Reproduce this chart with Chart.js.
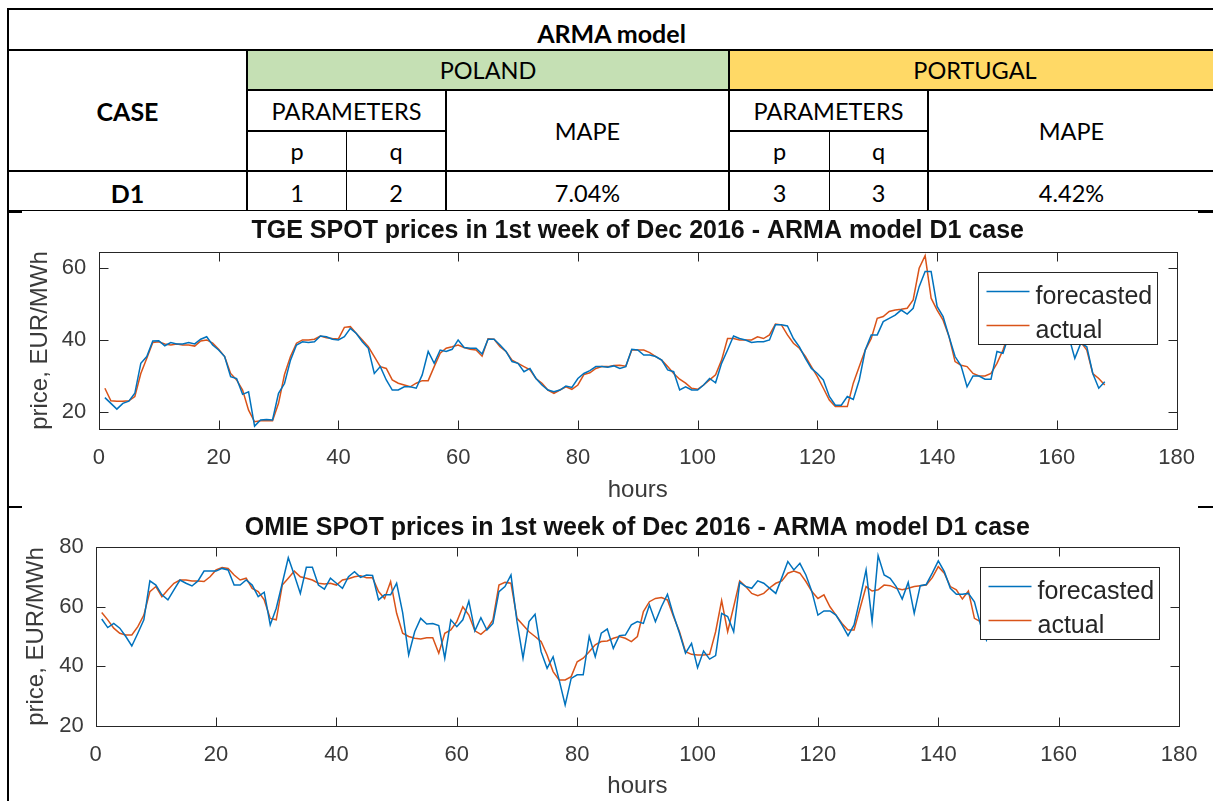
<!DOCTYPE html>
<html>
<head>
<meta charset="utf-8">
<title>ARMA model D1</title>
<script src="https://cdn.jsdelivr.net/npm/chart.js@4.4.1/dist/chart.umd.min.js"></script>
<style>
    html, body { margin: 0; padding: 0; background: #fff; }
    body { position: relative; width: 1213px; height: 801px; overflow: hidden; }

    .cell {
        position: absolute;
        display: flex;
        align-items: center;
        justify-content: center;
        box-sizing: border-box;
        font-family: Lato, "Open Sans", sans-serif;
        font-size: 23.5px;
        color: #000;
        white-space: nowrap;
    }
    .bold { font-weight: 700; font-size: 25px; }
    .rule { position: absolute; background: #000; }
    .plot { position: absolute; left: 9px; width: 1204px; height: 293px; }
</style>
</head>
<body>

<!-- table grid -->
<div class="rule" style="left:7px;top:8px;width:1210px;height:2px"></div>
<div class="rule" style="left:7px;top:49px;width:1210px;height:2px"></div>
<div class="rule" style="left:247px;top:89px;width:970px;height:2px"></div>
<div class="rule" style="left:247px;top:130px;width:200px;height:2px"></div>
<div class="rule" style="left:728px;top:130px;width:201px;height:2px"></div>
<div class="rule" style="left:7px;top:170px;width:1210px;height:2px"></div>
<div class="rule" style="left:7px;top:210px;width:1210px;height:1px"></div>

<div class="rule" style="left:7px;top:8px;width:2px;height:793px"></div>
<div class="rule" style="left:246px;top:49px;width:2px;height:162px"></div>
<div class="rule" style="left:346px;top:130px;width:1px;height:81px"></div>
<div class="rule" style="left:445px;top:89px;width:2px;height:122px"></div>
<div class="rule" style="left:728px;top:49px;width:2px;height:162px"></div>
<div class="rule" style="left:829px;top:130px;width:1px;height:81px"></div>
<div class="rule" style="left:927px;top:89px;width:2px;height:122px"></div>

<!-- little cell-end marks left and right of the chart rows -->
<div class="rule" style="left:9px;top:211px;width:13px;height:2px"></div>
<div class="rule" style="left:1198px;top:211px;width:15px;height:2px"></div>
<div class="rule" style="left:9px;top:506px;width:13px;height:2px"></div>
<div class="rule" style="left:1198px;top:506px;width:15px;height:2px"></div>

<!-- table cells -->
<div class="cell bold" id="tableTitle" style="left:9px;top:10px;width:1205px;height:39px;padding-top:6px"></div>
<div class="cell bold" id="caseHead" style="left:9px;top:51px;width:237px;height:119px"></div>

<div class="cell" id="regionA" style="left:248px;top:51px;width:480px;height:38px;background:#C5E0B4"></div>
<div class="cell" id="regionB" style="left:730px;top:51px;width:490px;height:38px;background:#FFD966"></div>

<div class="cell" id="paramsA" style="left:248px;top:91px;width:197px;height:39px"></div>
<div class="cell" id="mapeHeadA" style="left:447px;top:91px;width:281px;height:79px"></div>
<div class="cell" id="pHeadA" style="left:248px;top:132px;width:98px;height:38px"></div>
<div class="cell" id="qHeadA" style="left:347px;top:132px;width:98px;height:38px"></div>

<div class="cell" id="paramsB" style="left:730px;top:91px;width:197px;height:39px"></div>
<div class="cell" id="mapeHeadB" style="left:929px;top:91px;width:285px;height:79px"></div>
<div class="cell" id="pHeadB" style="left:730px;top:132px;width:99px;height:38px"></div>
<div class="cell" id="qHeadB" style="left:830px;top:132px;width:97px;height:38px"></div>

<div class="cell bold" id="caseName" style="left:9px;top:172px;width:237px;height:38px;padding-top:3px"></div>
<div class="cell" id="pA" style="left:248px;top:172px;width:98px;height:38px;padding-top:3px"></div>
<div class="cell" id="qA" style="left:347px;top:172px;width:98px;height:38px;padding-top:3px"></div>
<div class="cell" id="mapeA" style="left:447px;top:172px;width:281px;height:38px;padding-top:3px"></div>
<div class="cell" id="pB" style="left:730px;top:172px;width:99px;height:38px;padding-top:3px"></div>
<div class="cell" id="qB" style="left:830px;top:172px;width:97px;height:38px;padding-top:3px"></div>
<div class="cell" id="mapeB" style="left:929px;top:172px;width:285px;height:38px;padding-top:3px"></div>

<!-- the two price plots -->
<div class="plot" style="top:212px"><canvas id="tgeChart" width="1204" height="293"></canvas></div>
<div class="plot" style="top:508px"><canvas id="omieChart" width="1204" height="293"></canvas></div>

<script>
"use strict";

/*==========================================================
    TABLE VALUES
==========================================================*/

const modelName = "ARMA model";
const caseNames = ["D1"];
const markets = ["POLAND", "PORTUGAL"];
const orderP = [1, 3];
const orderQ = [2, 3];
const mapePercent = [7.04, 4.42];


/*==========================================================
    HOURLY PRICES, 1st week of Dec 2016 (EUR/MWh)
==========================================================*/

const tgeForecast = [
    24.1, 22.5, 20.9, 22.5, 23.1, 25.3, 33.6, 35.5, 39.8, 39.9,
    38.5, 39.4, 39.0, 39.0, 39.4, 39.0, 40.3, 41.0, 38.7, 37.3,
    35.5, 29.9, 29.4, 25.0, 25.7, 16.2, 17.9, 18.0, 17.9, 25.3,
    28.0, 34.5, 38.7, 39.6, 39.4, 39.6, 41.2, 41.0, 40.3, 40.1,
    41.0, 43.3, 41.9, 39.6, 37.8, 30.8, 32.7, 29.0, 26.2, 26.2,
    27.1, 27.1, 26.7, 30.4, 36.9, 33.6, 37.3, 36.9, 37.5, 40.1,
    38.0, 37.8, 37.8, 36.2, 40.3, 40.3, 38.7, 36.9, 34.1, 33.6,
    31.3, 32.2, 29.4, 27.6, 26.2, 25.7, 26.2, 27.3, 26.9, 29.4,
    30.8, 31.6, 32.7, 32.7, 32.5, 32.9, 32.2, 32.7, 37.5, 37.3,
    35.9, 35.9, 35.5, 34.5, 31.8, 31.3, 26.2, 27.1, 26.2, 26.2,
    27.6, 29.4, 28.2, 33.6, 37.3, 41.2, 40.5, 40.1, 39.4, 39.6,
    39.6, 40.1, 44.3, 44.3, 44.0, 40.5, 38.2, 35.0, 32.2, 30.8,
    29.0, 24.4, 22.0, 22.0, 24.4, 23.6, 29.0, 37.3, 41.5, 41.5,
    45.2, 46.1, 47.0, 48.4, 47.3, 48.9, 54.9, 59.1, 59.1, 49.4,
    46.6, 41.0, 35.5, 32.9, 27.1, 30.1, 30.1, 29.2, 29.2, 36.9,
    36.4, 41.5, 44.0, 48.0, 50.0, 48.0, 45.0, 43.0, 42.0, 41.0,
    43.0, 41.0, 35.0, 39.2, 38.2, 30.8, 26.7, 28.5
];

const tgeActual = [
    26.7, 23.2, 23.1, 23.1, 23.2, 24.4, 30.8, 35.0, 39.4, 39.6,
    39.0, 38.7, 39.0, 38.7, 38.7, 38.4, 39.8, 40.1, 39.2, 37.5,
    35.5, 30.8, 29.0, 26.2, 20.6, 17.4, 17.7, 17.7, 17.7, 22.5,
    30.5, 35.5, 39.2, 40.1, 40.1, 40.3, 41.2, 40.7, 40.5, 40.4,
    43.6, 43.8, 41.9, 40.1, 38.2, 35.5, 32.7, 32.2, 29.0, 28.1,
    27.6, 27.1, 28.1, 28.8, 28.8, 32.7, 36.4, 37.8, 38.2, 38.7,
    38.0, 37.5, 37.3, 35.6, 40.4, 40.3, 38.2, 36.9, 34.5, 33.6,
    32.7, 31.8, 29.4, 28.1, 26.2, 25.3, 26.2, 27.1, 26.4, 27.6,
    30.5, 31.0, 32.2, 32.7, 32.7, 33.0, 33.1, 32.8, 37.3, 37.3,
    37.3, 36.6, 35.5, 34.5, 32.7, 30.8, 29.2, 28.1, 26.7, 26.4,
    27.6, 29.0, 30.4, 34.5, 40.5, 40.5, 40.1, 40.1, 40.1, 41.0,
    40.5, 41.5, 44.5, 44.3, 41.5, 39.2, 37.8, 35.5, 32.7, 29.9,
    26.7, 23.4, 21.6, 21.6, 21.6, 28.1, 32.7, 37.3, 40.5, 46.1,
    46.6, 48.0, 48.4, 48.6, 48.9, 51.2, 60.0, 63.5, 51.7, 48.4,
    45.6, 41.0, 34.1, 33.1, 32.7, 30.8, 30.1, 30.1, 30.8, 33.6,
    37.3, 42.0, 46.0, 49.0, 50.0, 49.0, 46.0, 44.0, 43.0, 42.0,
    41.0, 40.5, 39.2, 39.5, 37.3, 30.8, 29.4, 27.6
];

const omieForecast = [
    55.9, 53.0, 54.4, 52.8, 50.0, 46.8, 51.1, 55.6, 68.7, 67.3,
    64.0, 62.3, 65.7, 69.0, 67.9, 67.0, 68.7, 72.0, 72.0, 72.0,
    72.9, 72.4, 67.3, 67.3, 69.0, 67.3, 63.4, 64.9, 53.9, 59.5,
    67.9, 76.5, 70.7, 64.5, 73.3, 73.3, 67.3, 65.9, 69.6, 67.9,
    66.2, 70.1, 71.8, 69.9, 70.7, 70.5, 62.3, 64.0, 64.0, 67.9,
    58.0, 43.8, 51.6, 56.1, 54.2, 54.4, 53.7, 42.7, 55.6, 53.3,
    55.6, 61.9, 51.9, 56.3, 52.2, 54.4, 65.1, 66.8, 70.7, 55.0,
    42.7, 55.0, 57.5, 44.9, 39.3, 43.2, 35.4, 27.0, 35.9, 37.1,
    37.1, 50.0, 43.2, 51.1, 52.5, 46.0, 50.3, 50.5, 53.9, 55.0,
    54.4, 60.6, 55.0, 60.0, 64.2, 57.2, 51.1, 44.4, 47.7, 39.5,
    45.1, 42.4, 43.6, 57.8, 56.7, 51.6, 68.2, 66.8, 66.2, 68.7,
    67.9, 66.2, 64.5, 69.8, 75.2, 72.4, 74.6, 70.7, 65.1, 57.2,
    58.6, 58.6, 57.2, 53.9, 50.3, 53.9, 62.8, 72.4, 55.0, 77.2,
    70.7, 69.6, 66.8, 62.6, 68.2, 57.8, 67.1, 67.5, 71.3, 75.4,
    71.8, 66.2, 64.2, 64.2, 64.5, 61.7, 54.0, 48.8, 55.0, 58.0,
    62.0, 64.0, 63.0, 60.0, 58.0, 61.0, 64.0, 66.0, 65.0, 63.0,
    60.0, 58.0, 60.0, 62.0, 64.0, 62.0, 60.0, 58.0
];

const omieActual = [
    58.1, 55.6, 52.8, 51.1, 50.5, 50.5, 53.3, 57.2, 65.1, 66.8,
    63.4, 65.7, 67.9, 69.0, 69.0, 68.7, 68.7, 68.5, 70.1, 72.4,
    73.2, 72.9, 70.7, 69.0, 69.6, 66.2, 65.1, 62.3, 56.1, 55.6,
    67.3, 69.6, 72.0, 70.1, 69.6, 69.0, 67.9, 67.7, 67.9, 67.3,
    69.0, 69.4, 70.1, 70.4, 69.8, 69.8, 65.1, 62.8, 68.5, 57.8,
    51.1, 50.0, 49.4, 49.2, 49.6, 49.6, 44.4, 51.1, 52.2, 55.0,
    60.0, 57.2, 51.9, 50.7, 52.5, 55.6, 67.3, 68.2, 67.9, 56.1,
    53.9, 51.6, 50.0, 48.3, 43.8, 38.2, 35.4, 35.4, 36.5, 41.5,
    42.7, 44.9, 47.2, 48.3, 48.5, 49.4, 50.0, 49.4, 48.3, 50.0,
    58.4, 61.7, 62.8, 63.1, 62.3, 56.7, 51.6, 44.9, 44.0, 43.8,
    43.8, 44.0, 51.6, 62.1, 51.6, 60.0, 68.7, 66.8, 64.5, 63.7,
    64.5, 66.4, 67.9, 68.7, 71.3, 72.0, 71.3, 68.5, 65.1, 62.8,
    64.0, 60.0, 57.2, 54.4, 52.2, 52.2, 59.5, 66.8, 65.3, 65.7,
    67.3, 67.1, 66.2, 65.7, 66.2, 66.8, 67.1, 67.3, 69.8, 73.5,
    71.3, 66.8, 65.7, 62.6, 65.3, 56.1, 55.0, 56.0, 59.0, 62.0,
    64.0, 63.0, 61.0, 59.0, 61.0, 63.0, 65.0, 64.0, 62.0, 60.0,
    59.0, 60.0, 62.0, 63.0, 61.0, 59.0, 58.0, 57.0
];

const hourTicks = [0, 20, 40, 60, 80, 100, 120, 140, 160, 180];
const tgeTicks = [20, 40, 60];
const omieTicks = [20, 40, 60, 80];

const seriesNames = ["forecasted", "actual"];


/*==========================================================
    STYLE
==========================================================*/

const PLOT_FONT = "'Liberation Sans', Arial, Helvetica, sans-serif";
const AXES_COLOR = "#262626";
const TICK_COLOR = "#3a3a3a";
const BLUE = "#0072BD";
const ORANGE = "#D95319";
const TICK_LEN = 9;


/*==========================================================
    TABLE
==========================================================*/

function fillTable() {

    const set = (id, text) => {
        document.getElementById(id).textContent = text;
    };

    set("tableTitle", modelName);
    set("caseHead", "CASE");
    set("caseName", caseNames[0]);

    ["A", "B"].forEach((suffix, i) => {

        set("region" + suffix, markets[i]);
        set("params" + suffix, "PARAMETERS");
        set("mapeHead" + suffix, "MAPE");
        set("pHead" + suffix, "p");
        set("qHead" + suffix, "q");
        set("p" + suffix, String(orderP[i]));
        set("q" + suffix, String(orderQ[i]));
        set("mape" + suffix, mapePercent[i].toFixed(2) + "%");

    });

}


/*==========================================================
    MATLAB-LOOKING AXES
    Boxed frame with inward ticks on all four sides, and a
    legend box sitting inside the top-right of the axes.
==========================================================*/

const matlabFrame = {

    id: "matlabFrame",

    afterDatasetsDraw(chart) {

        const { ctx, chartArea: a, scales } = chart;
        const left = Math.round(a.left) + 0.5;
        const right = Math.round(a.right) + 0.5;
        const top = Math.round(a.top) + 0.5;
        const bottom = Math.round(a.bottom) + 0.5;

        ctx.save();
        ctx.strokeStyle = AXES_COLOR;
        ctx.lineWidth = 1;
        ctx.beginPath();

        scales.x.ticks.forEach((t) => {
            const px = Math.round(scales.x.getPixelForValue(t.value)) + 0.5;
            if (px <= left + 1 || px >= right - 1) return;
            ctx.moveTo(px, bottom);
            ctx.lineTo(px, bottom - TICK_LEN);
            ctx.moveTo(px, top);
            ctx.lineTo(px, top + TICK_LEN);
        });

        scales.y.ticks.forEach((t) => {
            const py = Math.round(scales.y.getPixelForValue(t.value)) + 0.5;
            if (py <= top + 1 || py >= bottom - 1) return;
            ctx.moveTo(left, py);
            ctx.lineTo(left + TICK_LEN, py);
            ctx.moveTo(right, py);
            ctx.lineTo(right - TICK_LEN, py);
        });

        ctx.stroke();
        ctx.strokeRect(left, top, right - left, bottom - top);
        ctx.restore();

    },

    afterDraw(chart, args, opts) {

        const { ctx, chartArea: a } = chart;
        const bx = Math.round(a.right - opts.insetRight - opts.width) + 0.5;
        const by = Math.round(a.top + opts.insetTop) + 0.5;

        ctx.save();
        ctx.fillStyle = "#fff";
        ctx.fillRect(bx, by, opts.width, opts.height);
        ctx.strokeStyle = AXES_COLOR;
        ctx.lineWidth = 1;
        ctx.strokeRect(bx, by, opts.width, opts.height);

        ctx.font = "25px " + PLOT_FONT;
        ctx.textBaseline = "alphabetic";
        ctx.textAlign = "left";

        chart.data.datasets.forEach((ds, i) => {
            const rowTop = by + i * opts.rowGap;
            ctx.strokeStyle = ds.borderColor;
            ctx.lineWidth = 1.5;
            ctx.beginPath();
            ctx.moveTo(bx + 8, rowTop + opts.lineY);
            ctx.lineTo(bx + 51, rowTop + opts.lineY);
            ctx.stroke();
            ctx.fillStyle = AXES_COLOR;
            ctx.fillText(ds.label, bx + 57, rowTop + opts.baselineY);
        });

        ctx.restore();

    }

};


/*==========================================================
    CHART BUILDER
==========================================================*/

function priceChart(canvasId, setup) {

    const toPoints = (values) =>
        values.map((v, i) => ({ x: i + 1, y: v }));

    const line = (label, values, color) => ({
        label: label,
        data: toPoints(values),
        borderColor: color,
        backgroundColor: color,
        borderWidth: 1.5,
        pointRadius: 0,
        tension: 0,
        fill: false
    });

    return new Chart(document.getElementById(canvasId), {

        type: "line",

        data: {
            datasets: [
                line(seriesNames[0], setup.forecast, BLUE),
                line(seriesNames[1], setup.actual, ORANGE)
            ]
        },

        plugins: [matlabFrame],

        options: {

            responsive: false,
            animation: false,
            devicePixelRatio: 1,
            events: [],

            layout: {
                autoPadding: false,
                padding: { left: 0, top: 0, bottom: 0, right: setup.padRight }
            },

            scales: {

                x: {
                    type: "linear",
                    min: 0,
                    max: 180,
                    afterBuildTicks: (scale) => {
                        scale.ticks = hourTicks.map((v) => ({ value: v }));
                    },
                    afterFit: (scale) => { scale.height = setup.xAxisHeight; },
                    grid: { drawOnChartArea: false, drawTicks: false },
                    border: { display: false },
                    ticks: {
                        autoSkip: false,
                        maxRotation: 0,
                        padding: setup.xTickPad,
                        color: TICK_COLOR,
                        font: { family: PLOT_FONT, size: 22 }
                    },
                    title: {
                        display: true,
                        text: "hours",
                        color: TICK_COLOR,
                        font: { family: PLOT_FONT, size: 24 },
                        padding: { top: 0, bottom: 0 }
                    }
                },

                y: {
                    type: "linear",
                    min: setup.yMin,
                    max: setup.yMax,
                    afterBuildTicks: (scale) => {
                        scale.ticks = setup.yTicks.map((v) => ({ value: v }));
                    },
                    afterFit: (scale) => { scale.width = setup.yAxisWidth; },
                    grid: { drawOnChartArea: false, drawTicks: false },
                    border: { display: false },
                    ticks: {
                        padding: setup.yTickPad,
                        color: TICK_COLOR,
                        font: { family: PLOT_FONT, size: 22 }
                    },
                    title: {
                        display: true,
                        text: "price, EUR/MWh",
                        color: TICK_COLOR,
                        font: { family: PLOT_FONT, size: 24 },
                        padding: { top: setup.yTitlePad, bottom: 0 }
                    }
                }

            },

            plugins: {

                legend: { display: false },
                tooltip: { enabled: false },

                title: {
                    display: true,
                    fullSize: false,
                    text: setup.title,
                    color: "#111",
                    font: { family: PLOT_FONT, size: 25, weight: "bold" },
                    padding: { top: setup.titlePadTop, bottom: setup.titlePadBottom }
                },

                matlabFrame: {
                    insetRight: 20,
                    insetTop: 20,
                    width: 179,
                    height: 72,
                    rowGap: 34,
                    lineY: 19,
                    baselineY: 31
                }

            }

        }

    });

}


/*==========================================================
    INIT
==========================================================*/

fillTable();

priceChart("tgeChart", {
    title: "TGE SPOT prices in 1st week of Dec 2016 - ARMA model D1 case",
    forecast: tgeForecast,
    actual: tgeActual,
    yMin: 15.3,
    yMax: 64.6,
    yTicks: tgeTicks,
    padRight: 36.4,
    xAxisHeight: 75.7,
    yAxisWidth: 89.9,
    xTickPad: 15.5,
    yTickPad: 12.7,
    yTitlePad: 16.5,
    titlePadTop: 4.3,
    titlePadBottom: 5.4
});

priceChart("omieChart", {
    title: "OMIE SPOT prices in 1st week of Dec 2016 - ARMA model D1 case",
    forecast: omieForecast,
    actual: omieActual,
    yMin: 20,
    yMax: 80,
    yTicks: omieTicks,
    padRight: 32.5,
    xAxisHeight: 75.3,
    yAxisWidth: 86.7,
    xTickPad: 15.6,
    yTickPad: 11.9,
    yTitlePad: 12.6,
    titlePadTop: 4.8,
    titlePadBottom: 4.5
});
</script>
</body>
</html>
